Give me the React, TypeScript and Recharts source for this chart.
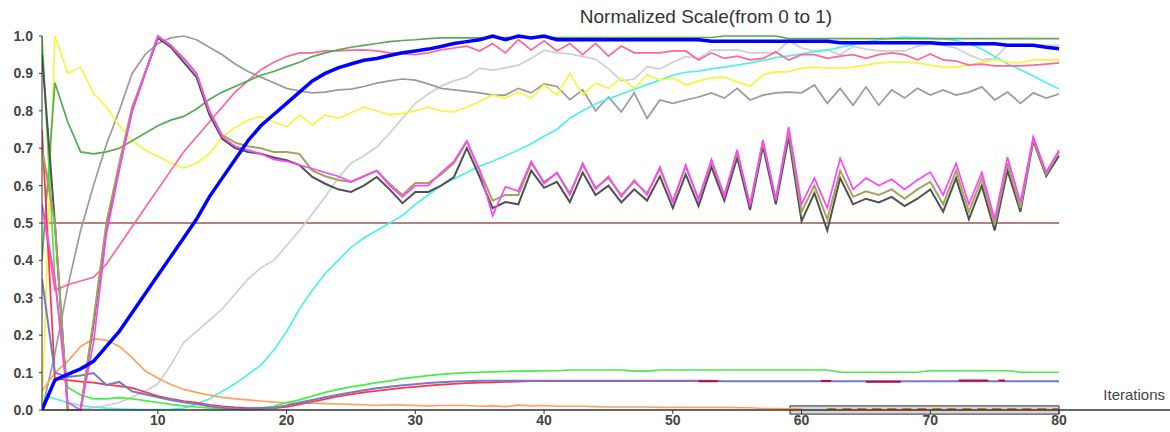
import { LineChart, Line, XAxis, YAxis, ReferenceArea } from "recharts";

// iteration index 1..80
const iterations = Array.from({ length: 80 }, (_, i) => i + 1);

const xTicks = [10, 20, 30, 40, 50, 60, 70, 80];
const yTicks = [0, 0.1, 0.2, 0.3, 0.4, 0.5, 0.6, 0.7, 0.8, 0.9, 1.0];

const blue = [
  0, 0.08, 0.095, 0.11, 0.13, 0.17, 0.21, 0.26, 0.31, 0.36,
  0.41, 0.46, 0.51, 0.57, 0.62, 0.67, 0.72, 0.76, 0.79, 0.82,
  0.85, 0.88, 0.9, 0.915, 0.925, 0.935, 0.94, 0.948, 0.955, 0.96,
  0.965, 0.972, 0.98, 0.985, 0.99, 1.0, 0.99, 1.0, 0.995, 1.0,
  0.99, 0.99, 0.99, 0.99, 0.99, 0.99, 0.99, 0.99, 0.99, 0.99,
  0.99, 0.99, 0.986, 0.986, 0.986, 0.986, 0.986, 0.986, 0.986, 0.986,
  0.986, 0.986, 0.982, 0.982, 0.982, 0.982, 0.982, 0.982, 0.982, 0.982,
  0.979, 0.979, 0.979, 0.979, 0.979, 0.975, 0.975, 0.975, 0.97, 0.966,
];

const darkGreen = [
  0.4, 0.875, 0.77, 0.69, 0.685, 0.69, 0.7, 0.72, 0.74, 0.76,
  0.775, 0.785, 0.805, 0.83, 0.85, 0.865, 0.88, 0.895, 0.905, 0.918,
  0.93, 0.945, 0.955, 0.963, 0.97, 0.975, 0.98, 0.985, 0.988, 0.99,
  0.993, 0.995, 0.995, 0.995, 0.995, 0.996, 0.996, 0.996, 0.996, 0.996,
  0.996, 0.996, 0.996, 0.996, 0.996, 0.996, 0.996, 0.996, 0.996, 0.996,
  0.996, 0.996, 0.996, 1.0, 1.0, 1.0, 1.0, 1.0, 0.993, 0.993,
  0.993, 0.993, 0.993, 0.993, 0.993, 0.993, 0.993, 0.993, 0.993, 0.993,
  0.993, 0.993, 0.993, 0.993, 0.993, 0.993, 0.993, 0.993, 0.993, 0.993,
];

const yellow = [
  0.0, 1.0, 0.9, 0.917, 0.847, 0.81, 0.76, 0.72, 0.695, 0.678,
  0.66, 0.647, 0.66, 0.685, 0.73, 0.755, 0.775, 0.785, 0.77, 0.757,
  0.789, 0.762, 0.789, 0.78, 0.795, 0.81, 0.8, 0.789, 0.793, 0.8,
  0.81, 0.8, 0.797, 0.81, 0.825, 0.842, 0.834, 0.85, 0.834, 0.869,
  0.842, 0.9, 0.842, 0.874, 0.86, 0.888, 0.86, 0.896, 0.882, 0.888,
  0.869, 0.88, 0.888, 0.89, 0.877, 0.866, 0.896, 0.904, 0.904, 0.914,
  0.917, 0.914, 0.914, 0.917, 0.922, 0.928, 0.93, 0.93, 0.928, 0.922,
  0.917, 0.917, 0.922, 0.93, 0.936, 0.93, 0.928, 0.936, 0.936, 0.936,
];

const pink = [
  0.55, 0.32, 0.335, 0.345, 0.355, 0.39, 0.44, 0.49, 0.54, 0.59,
  0.64, 0.69, 0.73, 0.77, 0.81, 0.85, 0.88, 0.91, 0.93, 0.945,
  0.955, 0.955, 0.96, 0.96, 0.962, 0.963, 0.96, 0.955, 0.952, 0.95,
  0.955, 0.963, 0.968, 0.973, 0.96, 0.98, 0.955, 0.99, 0.963, 0.987,
  0.96, 0.98, 0.95, 0.98, 0.946, 0.973, 0.955, 0.955, 0.955, 0.96,
  0.96, 0.936, 0.955, 0.94, 0.946, 0.936, 0.94, 0.957, 0.936, 0.95,
  0.95, 0.94, 0.946, 0.95, 0.94, 0.95, 0.955, 0.95, 0.936, 0.952,
  0.936, 0.933, 0.922, 0.925, 0.92, 0.92, 0.92, 0.922, 0.925, 0.928,
];

const gray = [
  0.0, 0.15, 0.33, 0.48, 0.6, 0.71, 0.8, 0.9, 0.95, 0.98,
  0.995, 1.0, 0.99, 0.97, 0.95, 0.925, 0.905, 0.89, 0.875, 0.86,
  0.853, 0.848, 0.85, 0.856, 0.858, 0.865, 0.874, 0.88, 0.885, 0.882,
  0.872, 0.86, 0.856, 0.852, 0.848, 0.842, 0.842, 0.86, 0.848, 0.872,
  0.865, 0.83, 0.856, 0.8, 0.837, 0.797, 0.848, 0.78, 0.829, 0.82,
  0.829, 0.837, 0.848, 0.834, 0.86, 0.829, 0.842, 0.848, 0.85, 0.848,
  0.869, 0.82, 0.86, 0.815, 0.864, 0.815, 0.856, 0.834, 0.86, 0.842,
  0.856, 0.842, 0.85, 0.864, 0.829, 0.85, 0.82, 0.848, 0.834, 0.845,
];

const lightGray = [
  0, 0, 0, 0.003, 0.006, 0.012, 0.02, 0.035, 0.05, 0.07,
  0.12, 0.18, 0.21, 0.24, 0.27, 0.31, 0.35, 0.38, 0.4, 0.44,
  0.48, 0.525, 0.57, 0.62, 0.66, 0.68, 0.703, 0.74, 0.78, 0.82,
  0.845, 0.866, 0.88, 0.89, 0.914, 0.909, 0.915, 0.922, 0.94, 0.962,
  0.955, 0.952, 0.945, 0.938, 0.912, 0.88, 0.885, 0.918, 0.912, 0.93,
  0.945, 0.94, 0.962, 0.962, 0.963, 0.955, 0.955, 0.955, 0.987, 0.968,
  0.96, 0.963, 0.95, 0.972, 0.965, 0.96, 0.96, 0.96, 0.973, 0.978,
  0.975, 0.968, 0.95, 0.936, 0.94, 0.976, 0.975, 0.975, 0.975, 0.975,
];

const cyan = [
  0.04, 0.03, 0.02, 0.012, 0.008, 0.005, 0.003, 0.002, 0.001, 0.001,
  0.002, 0.005, 0.015, 0.03, 0.05, 0.07, 0.095, 0.12, 0.16, 0.21,
  0.27, 0.32, 0.365, 0.4, 0.435, 0.46, 0.48, 0.5, 0.52, 0.55,
  0.575, 0.6, 0.618, 0.635, 0.652, 0.665, 0.68, 0.695, 0.712, 0.732,
  0.75, 0.78, 0.8, 0.818, 0.832, 0.845, 0.857, 0.87, 0.882, 0.895,
  0.903, 0.906, 0.912, 0.917, 0.922, 0.928, 0.935, 0.942, 0.947, 0.952,
  0.958, 0.962, 0.97, 0.977, 0.984, 0.99, 0.994, 0.997, 0.996, 0.994,
  0.992, 0.988, 0.98, 0.965, 0.945, 0.925, 0.91, 0.893, 0.875, 0.858,
];

const magenta = [
  0.55, 0.35, 0.02, 0.0, 0.18, 0.47, 0.64, 0.8, 0.9, 1.0,
  0.975, 0.94, 0.9, 0.8, 0.73, 0.705, 0.695, 0.685, 0.67, 0.665,
  0.655, 0.645, 0.635, 0.625, 0.61, 0.625, 0.64, 0.6, 0.57, 0.6,
  0.6, 0.635, 0.665, 0.72, 0.64, 0.52, 0.597, 0.585, 0.665, 0.605,
  0.635, 0.575, 0.66, 0.59, 0.625, 0.57, 0.615, 0.575, 0.65, 0.555,
  0.655, 0.56, 0.67, 0.57, 0.695, 0.545, 0.722, 0.56, 0.757, 0.55,
  0.62, 0.54, 0.673, 0.59, 0.62, 0.6, 0.617, 0.59, 0.615, 0.636,
  0.575, 0.66, 0.55, 0.635, 0.51, 0.676, 0.555, 0.73, 0.636, 0.695,
];

const olive = [
  0.7, 0.5, 0.0, 0.0, 0.24, 0.5, 0.66, 0.81, 0.9, 1.0,
  0.975, 0.94, 0.9, 0.8, 0.735, 0.715, 0.705, 0.7, 0.69, 0.69,
  0.685, 0.64, 0.625, 0.615, 0.61, 0.625, 0.64, 0.605, 0.575, 0.607,
  0.607, 0.63, 0.66, 0.717, 0.64, 0.56, 0.575, 0.575, 0.66, 0.61,
  0.633, 0.58, 0.655, 0.595, 0.62, 0.575, 0.61, 0.58, 0.645, 0.56,
  0.65, 0.565, 0.665, 0.575, 0.69, 0.55, 0.718, 0.565, 0.745, 0.53,
  0.6, 0.51, 0.64, 0.57, 0.585, 0.575, 0.59, 0.565, 0.59, 0.61,
  0.55, 0.64, 0.53, 0.62, 0.495, 0.66, 0.54, 0.725, 0.63, 0.69,
];

const darkGrey = [
  0.95, 0.5, 0.0, 0.0, 0.23, 0.49, 0.65, 0.8, 0.9, 0.995,
  0.97, 0.93, 0.89, 0.79, 0.725, 0.7, 0.69, 0.685, 0.675, 0.668,
  0.655, 0.623, 0.605, 0.59, 0.583, 0.6, 0.623, 0.59, 0.553, 0.583,
  0.583, 0.6, 0.623, 0.7, 0.623, 0.54, 0.556, 0.55, 0.64, 0.594,
  0.61, 0.556, 0.635, 0.575, 0.6, 0.555, 0.59, 0.56, 0.625, 0.54,
  0.63, 0.545, 0.65, 0.56, 0.675, 0.535, 0.705, 0.55, 0.73, 0.505,
  0.58, 0.48, 0.62, 0.55, 0.565, 0.555, 0.57, 0.545, 0.565, 0.59,
  0.53, 0.62, 0.51, 0.6, 0.48, 0.64, 0.53, 0.72, 0.625, 0.68,
];

const brightGreen = [
  1.0, 0.35, 0.06, 0.04, 0.03, 0.03, 0.033, 0.03, 0.025, 0.02,
  0.015, 0.011, 0.008, 0.005, 0.003, 0.002, 0.003, 0.006, 0.01, 0.02,
  0.027, 0.037, 0.047, 0.055, 0.062, 0.067, 0.073, 0.078, 0.084, 0.088,
  0.092, 0.095, 0.098, 0.1, 0.101, 0.102, 0.103, 0.104, 0.104, 0.105,
  0.105, 0.107, 0.107, 0.107, 0.107, 0.107, 0.104, 0.104, 0.107, 0.107,
  0.107, 0.107, 0.107, 0.107, 0.107, 0.107, 0.107, 0.107, 0.107, 0.107,
  0.107, 0.107, 0.101, 0.101, 0.101, 0.101, 0.101, 0.101, 0.101, 0.105,
  0.105, 0.105, 0.105, 0.105, 0.105, 0.105, 0.101, 0.101, 0.101, 0.101,
];

const orange = [
  0.05, 0.1, 0.13, 0.17, 0.19, 0.187, 0.17, 0.14, 0.105, 0.085,
  0.068, 0.055, 0.047, 0.04, 0.034, 0.03, 0.027, 0.024, 0.021, 0.019,
  0.018, 0.018, 0.017, 0.016, 0.015, 0.014, 0.012, 0.014, 0.013, 0.012,
  0.011, 0.012, 0.012, 0.012, 0.01, 0.011, 0.009, 0.013, 0.011, 0.012,
  0.01, 0.01, 0.01, 0.009, 0.008, 0.008, 0.008, 0.008, 0.007, 0.007,
  0.007, 0.007, 0.007, 0.007, 0.006, 0.006, 0.004, 0.004, 0.003, 0.003,
  null, null, null, null, null, null, null, null, null, null,
  null, null, null, null, null, null, null, null, null, null,
];

const orangeDashed = [
  null, null, null, null, null, null, null, null, null, null,
  null, null, null, null, null, null, null, null, null, null,
  null, null, null, null, null, null, null, null, null, null,
  null, null, null, null, null, null, null, null, null, null,
  null, null, null, null, null, null, null, null, null, null,
  null, null, null, null, null, null, null, null, null, null,
  null, 0.003, 0.003, 0.003, 0.003, 0.003, 0.003, 0.003, 0.003, 0.003,
  0.003, 0.003, 0.003, 0.003, 0.003, 0.003, 0.003, 0.003, 0.003, 0.003,
];

const red = [
  0.75, 0.085, 0.08, 0.076, 0.073, 0.068, 0.064, 0.059, 0.048, 0.037,
  0.03, 0.024, 0.02, 0.014, 0.01, 0.007, 0.005, 0.005, 0.005, 0.008,
  0.015, 0.022, 0.029, 0.036, 0.042, 0.047, 0.051, 0.055, 0.059, 0.062,
  0.065, 0.068, 0.07, 0.072, 0.073, 0.074, 0.075, 0.076, 0.077, 0.077,
  0.077, 0.077, 0.077, 0.077, 0.077, 0.077, 0.077, 0.077, 0.077, 0.077,
  0.077, 0.077, 0.077, null, null, null, null, null, null, null,
  null, null, null, null, null, null, null, null, null, null,
  null, null, null, null, null, null, null, null, null, null,
];

const purple = [
  0.35, 0.1, 0.088, 0.092, 0.099, 0.067, 0.075, 0.05, 0.042, 0.034,
  0.027, 0.021, 0.016, 0.01, 0.006, 0.003, 0.002, 0.003, 0.006, 0.012,
  0.02, 0.027, 0.034, 0.041, 0.047, 0.053, 0.058, 0.062, 0.066, 0.069,
  0.072, 0.074, 0.076, 0.077, 0.078, 0.078, 0.078, 0.078, 0.078, 0.078,
  0.078, 0.078, 0.078, 0.078, 0.078, 0.078, 0.078, 0.078, 0.078, 0.078,
  0.078, 0.078, 0.078, 0.077, 0.077, 0.077, 0.077, 0.077, 0.077, 0.077,
  0.077, 0.077, 0.077, 0.077, 0.077, 0.077, 0.077, 0.077, 0.077, 0.077,
  0.077, 0.077, 0.077, 0.077, 0.077, 0.077, 0.077, 0.077, 0.077, 0.077,
];

// short crimson pieces that peek out from under the purple line
const crimsonX = [52, 53.5, 53.6, 61.5, 62.3, 62.4, 65, 67.7, 67.8, 72.2, 74.5, 74.6, 75.3, 75.8];
const crimsonY = [0.077, 0.077, null, 0.0775, 0.0775, null, 0.0755, 0.0755, null, 0.079, 0.079, null, 0.079, 0.079];

const thresholdX = [1, 80];
const thresholdY = [0.5, 0.5];

const rows = iterations.map((x, i) => ({
  x,
  blue: blue[i],
  darkGreen: darkGreen[i],
  yellow: yellow[i],
  pink: pink[i],
  gray: gray[i],
  lightGray: lightGray[i],
  cyan: cyan[i],
  magenta: magenta[i],
  olive: olive[i],
  darkGrey: darkGrey[i],
  brightGreen: brightGreen[i],
  orange: orange[i],
  orangeDashed: orangeDashed[i],
  red: red[i],
  purple: purple[i],
}));

const crimsonRows = crimsonX.map((x, i) => ({ x, v: crimsonY[i] }));
const thresholdRows = thresholdX.map((x, i) => ({ x, v: thresholdY[i] }));

const series = [
  { key: "lightGray", color: "#cfcfcf", width: 1.7 },
  { key: "gray", color: "#9a9a9a", width: 1.7 },
  { key: "cyan", color: "#4ff0f0", width: 1.7 },
  { key: "yellow", color: "#f7f540", width: 1.7 },
  { key: "pink", color: "#ff6699", width: 1.7 },
  { key: "darkGreen", color: "#55aa55", width: 1.7 },
  { key: "orange", color: "#ffa060", width: 1.7 },
  { key: "brightGreen", color: "#44ee44", width: 1.7 },
  { key: "red", color: "#ff3344", width: 1.7 },
  { key: "purple", color: "#7878c8", width: 2 },
  { key: "darkGrey", color: "#505050", width: 2 },
  { key: "olive", color: "#a3a35a", width: 2 },
  { key: "magenta", color: "#ff44ff", width: 1.7 },
];

const tickStyle = { fontSize: 14, fontWeight: 700, fill: "#444" };

export default function App() {
  return (
    <div
      style={{
        position: "absolute",
        left: 0,
        top: 0,
        width: 1170,
        height: 432,
        background: "#fff",
        fontFamily: '"Liberation Sans", Arial, sans-serif',
      }}
    >
      <LineChart
        width={1170}
        height={432}
        data={rows}
        margin={{ top: 36, right: 0, bottom: 0, left: 0 }}
      >
        <XAxis
          type="number"
          dataKey="x"
          domain={[1, 88.62]}
          ticks={xTicks}
          allowDataOverflow
          height={22}
          tickSize={4}
          tickMargin={1}
          tick={tickStyle}
          axisLine={{ stroke: "#333", strokeWidth: 1.5 }}
          tickLine={{ stroke: "#333" }}
        />
        <YAxis
          type="number"
          domain={[0, 1]}
          ticks={yTicks}
          width={42}
          tickSize={3}
          tickMargin={6}
          tick={tickStyle}
          tickFormatter={(v: number) => v.toFixed(1)}
          axisLine={{ stroke: "#333" }}
          tickLine={{ stroke: "#333" }}
        />
        <ReferenceArea
          x1={59.1}
          x2={80}
          y1={-0.011}
          y2={0.011}
          ifOverflow="visible"
          fill="#d6d6d6"
          fillOpacity={1}
          stroke="#333"
        />
        <Line
          data={thresholdRows}
          dataKey="v"
          stroke="#a85050"
          strokeWidth={1.6}
          dot={false}
          isAnimationActive={false}
        />
        {series.map((s) => (
          <Line
            key={s.key}
            dataKey={s.key}
            stroke={s.color}
            strokeWidth={s.width}
            dot={false}
            connectNulls={false}
            isAnimationActive={false}
          />
        ))}
        <Line
          data={crimsonRows}
          dataKey="v"
          stroke="#b01040"
          strokeWidth={2}
          dot={false}
          isAnimationActive={false}
        />
        <Line
          dataKey="orangeDashed"
          stroke="#cc7722"
          strokeWidth={2}
          strokeDasharray="9 6"
          dot={false}
          isAnimationActive={false}
        />
        <Line
          dataKey="blue"
          stroke="#0000ff"
          strokeWidth={3.5}
          dot={false}
          isAnimationActive={false}
        />
      </LineChart>
      <div
        style={{
          position: "absolute",
          left: 506,
          top: 6,
          width: 400,
          textAlign: "center",
          fontSize: 19,
          color: "#333",
        }}
      >
        Normalized Scale(from 0 to 1)
      </div>
      <div
        style={{
          position: "absolute",
          right: 5,
          top: 386,
          fontSize: 15,
          color: "#444",
        }}
      >
        Iterations
      </div>
    </div>
  );
}
